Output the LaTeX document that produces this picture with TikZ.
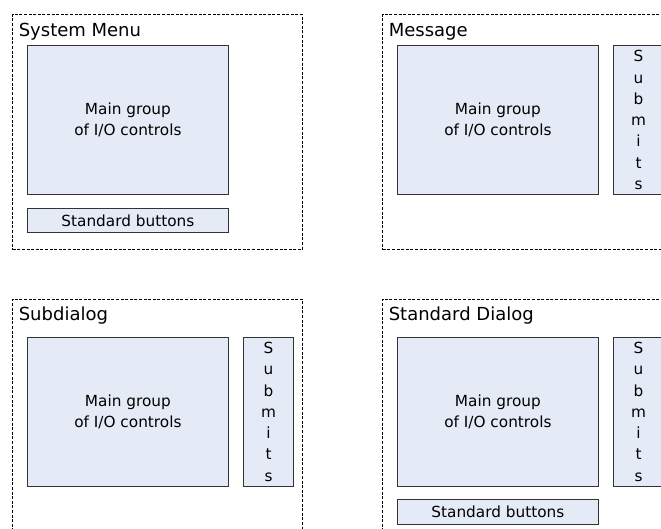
\documentclass[tikz,border=0pt]{standalone}
\usepackage{fontspec}
\setmainfont{DejaVu Sans}
\usepackage{xcolor}
\usetikzlibrary{positioning}
\definecolor{groupfill}{HTML}{E5EBF6}
\definecolor{boxline}{HTML}{333333}
\tikzset{
  frame/.style={draw, line width=0.8pt, dash pattern=on 3pt off 1.6pt, anchor=north west,
    minimum width=289.7pt, minimum height=235.3pt, inner sep=0pt},
  wintitle/.style={anchor=base west, inner sep=0pt, font=\fontsize{18}{20}\selectfont},
  iogroup/.style={draw=boxline, line width=0.8pt, fill=groupfill, anchor=north west,
    minimum width=200.4pt, minimum height=149.3pt, inner sep=0pt, align=center,
    font=\fontsize{15.3}{21.3}\selectfont},
  submits/.style={draw=boxline, line width=0.8pt, fill=groupfill,
    minimum width=50pt, minimum height=149.3pt, inner sep=0pt, align=center,
    font=\fontsize{15.3}{21.3}\selectfont},
  stdbuttons/.style={draw=boxline, line width=0.8pt, fill=groupfill,
    minimum width=200.4pt, minimum height=24.7pt, inner sep=0pt,
    font=\fontsize{15.3}{18}\selectfont}
}
\newcommand{\submittext}{S\\u\\b\\m\\i\\t\\s}
\begin{document}
\begin{tikzpicture}[x=1pt,y=-1pt]
  \useasboundingbox (0,0) rectangle (661,529);
  \clip (0,0) rectangle (661,529);
  % system menu
  \node[frame] (menuframe) at (12.3,14) {};
  \node[wintitle] (menutitle) at (18.6,36.7) {System Menu};
  \node[iogroup] (menugroup) at (27.3,45) {Main group\\of I/O controls};
  \node[stdbuttons, below right=12.7pt and 0pt of menugroup.south west] (menubuttons) {Standard buttons};
  % message
  \node[frame] (msgframe) at (382.3,14) {};
  \node[wintitle] (msgtitle) at (388.6,36.7) {Message};
  \node[iogroup] (msggroup) at (397.3,45) {Main group\\of I/O controls};
  \node[submits, right=14.6pt of msggroup] (msgsubmits) {\submittext};
  % subdialog
  \node[frame] (subframe) at (12.3,298.5) {};
  \node[wintitle] (subtitle) at (18.6,320.7) {Subdialog};
  \node[iogroup] (subgroup) at (27.3,336.7) {Main group\\of I/O controls};
  \node[submits, right=14.6pt of subgroup] (subsubmits) {\submittext};
  % standard dialog
  \node[frame] (stdframe) at (382.3,298.5) {};
  \node[wintitle] (stdtitle) at (388.6,320.7) {Standard Dialog};
  \node[iogroup] (stdgroup) at (397.3,336.7) {Main group\\of I/O controls};
  \node[submits, right=14.6pt of stdgroup] (stdsubmits) {\submittext};
  \node[stdbuttons, below right=12.3pt and 0pt of stdgroup.south west] (stdbuttons) {Standard buttons};
\end{tikzpicture}
\end{document}
